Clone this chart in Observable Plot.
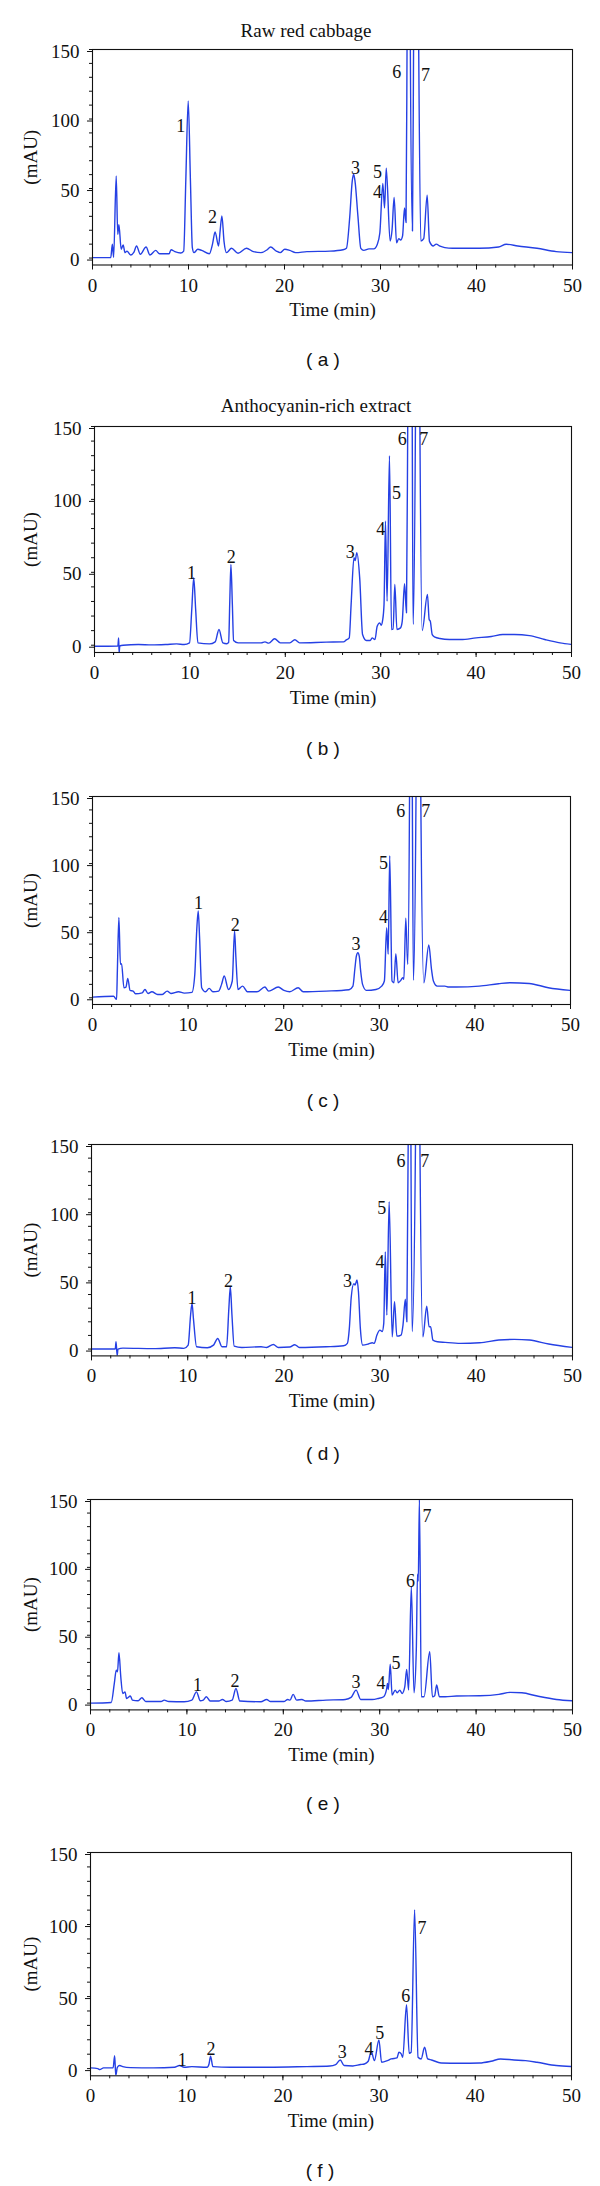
<!DOCTYPE html>
<html>
<head>
<meta charset="utf-8">
<script src="https://cdn.jsdelivr.net/npm/d3@7"></script>
<script src="https://cdn.jsdelivr.net/npm/@observablehq/plot@0.6"></script>
<style>
  html, body { margin: 0; padding: 0; background: #fff; }
  #root { position: relative; width: 600px; height: 2186px; background: #fff; overflow: hidden; }
  .ttl { position: absolute; transform: translate(-50%, -50%); font-family: "Liberation Serif", serif; font-size: 19px; line-height: 1; white-space: nowrap; color: #111; }
  .cap { position: absolute; transform: translate(-50%, -50%); font-family: "Liberation Sans", sans-serif; font-size: 19px; line-height: 1; white-space: pre; color: #111; }
  svg { position: absolute; left: 0; }
</style>
</head>
<body>
<div id="root"></div>
<script>
// ---------- tick labels ----------
const xTicks = [0, 10, 20, 30, 40, 50];
const xMinorTicks = [0, 2, 4, 6, 8, 10, 12, 14, 16, 18, 20, 22, 24, 26, 28, 30, 32, 34, 36, 38, 40, 42, 44, 46, 48, 50];
const yTicks = [0, 50, 100, 150];
const yMinorTicks = [0, 10, 20, 30, 40, 50, 60, 70, 80, 90, 100, 110, 120, 130, 140, 150];
const panelTitles = ["Raw red cabbage", "Anthocyanin-rich extract", "", "", "", ""];
const panelCaptions = ["( a )", "( b )", "( c )", "( d )", "( e )", "( f )"];
const xLabel = "Time (min)";
const yLabel = "(mAU)";

// ---------- traces: [time (min), absorbance (mAU)] ----------
const traceA = [[0,0.3],[1.9,0.3],[2.07,10],[2.2,0.5],[2.47,59],[2.63,17],[2.75,24],[2.99,6.3],[3.19,9.4],[3.39,3.9],[3.59,5],[3.99,2.2],[4.3,4],[4.59,8.7],[4.98,2.7],[5.58,7.9],[5.98,2.2],[6.58,5.5],[6.98,3.1],[7.98,3.1],[8.18,6],[8.58,4.6],[9.18,3.6],[9.5,5],[9.72,56],[9.97,113],[10.2,56],[10.4,7.5],[10.57,3.9],[10.97,6.3],[11.37,5.5],[12.17,3.1],[12.5,10],[12.77,18.8],[13.13,8.7],[13.3,20],[13.48,30.3],[13.7,12],[13.96,3.9],[14.48,7],[15.16,3.4],[16.04,7],[16.76,4.6],[17.55,3.9],[18.2,6],[18.55,7.9],[19.15,5],[19.55,3.9],[20.03,6.3],[20.55,5.5],[21.15,3.9],[22.34,4.6],[24.74,5],[26.1,6],[26.45,7],[26.8,30],[27.05,55],[27.2,60.3],[27.35,55],[27.65,30],[27.95,7],[28.26,5.5],[28.8,6.6],[29.3,6.6],[29.65,9.6],[29.93,18],[30.24,53.6],[30.42,36],[30.6,64.7],[31.0,12.3],[31.2,20],[31.42,43.5],[31.67,11],[31.9,14],[32.1,13],[32.3,16],[32.5,36],[32.66,25.5],[32.77,160],[32.93,450],[33.1,160],[33.33,19.5],[33.45,160],[33.7,500],[33.97,160],[34.2,12.3],[34.5,14],[34.86,45.2],[35.1,12],[35.5,8.7],[35.8,10],[36.2,8.5],[36.7,7.5],[37.5,7],[40.3,7],[42.3,7.9],[43.1,9.9],[44.3,8.7],[46.3,7],[48.3,4.6],[50,3.9]];

const traceB = [[0,-0.7],[2.45,-0.5],[2.53,5],[2.58,-5.3],[2.65,-0.5],[3.0,0],[4.6,0.5],[6,0.2],[7.5,0.5],[8.6,0.9],[9.4,0.5],[9.96,1.6],[10.2,25],[10.4,46.3],[10.6,25],[10.84,1.6],[12.05,0.9],[12.65,2.3],[13.05,10.8],[13.45,1.6],[13.86,1],[14.06,2],[14.18,30],[14.3,55.4],[14.45,28],[14.58,3.2],[15.06,1.6],[17.47,1.6],[17.87,2.3],[18.27,1.4],[18.88,4.4],[19.48,1.6],[20.48,1.6],[21.0,3.7],[21.5,1.6],[24.3,2.1],[26.1,2.3],[26.4,3.7],[26.7,5],[26.9,28],[27.2,60],[27.32,58],[27.5,63.5],[27.8,46],[28.1,7.3],[28.5,3.2],[28.9,3.2],[29.1,5],[29.4,3.9],[29.63,13],[29.9,15.3],[30.05,13.7],[30.2,17],[30.35,28],[30.5,85.2],[30.67,30.2],[30.92,129.9],[31.13,10.8],[31.3,11],[31.48,41.7],[31.7,10.8],[32.08,11.9],[32.26,16.5],[32.5,42.2],[32.7,22.2],[32.84,160],[33.07,450],[33.3,160],[33.4,14.2],[33.65,160],[33.87,500],[34.1,160],[34.35,10.1],[34.9,34.8],[35.08,17.6],[35.2,16.5],[35.4,7.3],[35.7,5.5],[36.2,4.6],[37.2,3.9],[38.4,3.9],[40,5],[41.6,6],[42.8,7.3],[44,7.3],[45.6,6.6],[47.2,3.9],[48.8,1.6],[50,0.5]];

const traceC = [[0,0.5],[2.2,1.2],[2.52,-1.2],[2.6,20],[2.76,59.8],[2.92,25],[3.04,25.4],[3.29,7.5],[3.5,8],[3.69,14.5],[3.93,5.5],[4.25,5],[4.49,3],[5.2,3.7],[5.49,6.2],[5.81,3.2],[6.21,4.5],[6.81,2.5],[7.3,2.5],[7.81,5],[8.21,3.2],[9.01,4.5],[9.6,3.5],[10.4,4],[10.7,17.4],[10.9,50],[11.06,64.8],[11.2,45],[11.42,7.5],[11.82,4.5],[12.2,7],[12.6,4.5],[13.2,5],[13.5,10],[13.78,16.2],[14.22,6.2],[14.62,12.5],[14.86,49.8],[15.0,30],[15.22,6.2],[15.7,8.7],[16.2,4.5],[17.2,4.5],[18.03,8],[18.43,5],[19.43,8],[20.03,5.5],[20.63,4.5],[21.51,7.5],[22.04,4.5],[24.44,5],[26.84,6],[27.24,8.7],[27.45,22],[27.6,31],[27.76,33.6],[27.9,31],[28.05,20],[28.25,10],[28.65,5.5],[29.65,6.2],[30.25,8.7],[30.53,12.5],[30.77,52.3],[30.93,32.4],[31.09,105.9],[31.33,12.5],[31.53,11.2],[31.73,32.9],[31.97,11.2],[32.25,13],[32.45,15],[32.57,13.7],[32.77,59.3],[32.97,24.9],[33.17,160],[33.31,450],[33.45,160],[33.57,13],[33.85,160],[34.09,500],[34.33,160],[34.66,11.2],[35.18,39.4],[35.46,21.2],[35.66,12.5],[36.06,8.7],[36.86,8.7],[37.26,8],[38.06,8],[40.46,8.7],[42.47,10.5],[43.67,11.2],[45.67,10.7],[47.68,7.5],[50,5.5]];

const traceD = [[0,0],[2.47,0],[2.55,5.4],[2.67,-4.9],[2.75,0],[3.27,0.7],[6.46,0.3],[8.65,1],[9.6,0.5],[10.05,2.9],[10.3,25],[10.45,33.5],[10.6,22],[10.92,1.7],[12.04,1],[12.68,2.9],[13.12,7.8],[13.56,1.7],[14.04,1.7],[14.28,30],[14.43,45.7],[14.6,25],[14.83,2.2],[15.63,1.2],[17.62,1.7],[18.2,1.2],[18.9,3.4],[19.42,1.2],[20.61,1.5],[21.13,3.2],[21.61,1.2],[24.4,1.7],[26.2,2.4],[26.6,4.2],[26.8,15],[27.0,38],[27.27,48],[27.4,47],[27.6,50.6],[27.75,42],[27.95,15],[28.19,2.9],[28.79,3.7],[29.19,4.6],[29.39,4.2],[29.67,10.3],[29.98,13.9],[30.22,12.9],[30.38,18.8],[30.54,71.3],[30.7,24.9],[30.94,108],[31.26,9],[31.5,34.7],[31.74,9.5],[32.18,10.3],[32.38,17.6],[32.62,36.6],[32.78,20],[32.93,160],[33.07,450],[33.2,160],[33.33,12.7],[33.69,160],[33.91,500],[34.13,160],[34.45,9],[34.85,31.5],[35.09,16.4],[35.25,16.4],[35.49,6.6],[35.96,5.4],[36.76,4.9],[38.36,4.2],[40.35,4.6],[42.34,6.6],[43.94,7.1],[45.53,6.6],[47.53,3.7],[50,1.2]];

const traceE = [[0,0],[2.15,0.5],[2.47,14.5],[2.67,24.3],[2.8,23],[2.95,37.1],[3.14,19.4],[3.34,7.1],[3.58,8.3],[3.74,3.4],[4.14,5.2],[4.34,2.2],[4.94,1.7],[5.33,3.9],[5.73,1.2],[7.32,1.2],[7.64,2.2],[8.12,1.2],[9.71,1],[10.51,2.2],[10.99,8.3],[11.39,1.7],[11.7,2.2],[12.02,4.7],[12.42,1.5],[13.3,1.5],[13.69,2.7],[14.09,1.2],[14.69,2.2],[15.09,10.8],[15.49,1.5],[17.68,1],[18.27,2.7],[18.67,1.2],[20.06,1.2],[20.46,2.7],[20.7,2.2],[21.02,6.4],[21.38,2.2],[21.93,2.7],[22.33,1.5],[24.44,2.2],[26.43,2.7],[27.03,4.2],[27.55,9.6],[28.03,2.7],[29.22,2.7],[29.82,3.4],[30.41,4.7],[30.73,10.8],[30.81,14.5],[30.9,10],[31.09,28.7],[31.29,5.9],[31.61,9.6],[31.81,7.6],[32.09,9.6],[32.32,7.1],[32.6,12],[32.8,24.8],[33.0,9.6],[33.28,85.7],[33.56,7.6],[33.8,40],[33.92,95],[34.0,90],[34.12,150],[34.32,4.7],[34.6,4.7],[35.19,37.8],[35.47,4.7],[35.7,5.5],[35.91,13.3],[36.19,4.7],[36.8,4.7],[37.98,5.2],[40.37,5.4],[42.36,6.4],[43.55,7.9],[44.75,7.6],[46.34,5.2],[48.33,2.7],[50,1.7]];

const traceF = [[0,0.5],[0.76,0],[0.96,-0.7],[1.36,0.5],[2.35,0.5],[2.51,9],[2.63,-4.9],[2.79,0.9],[3.03,2.1],[3.35,1.4],[4.15,0.7],[6.54,0.5],[8.73,0.9],[9.25,2.1],[9.73,0.9],[10.53,1.4],[12.12,0.9],[12.32,3.2],[12.48,8.6],[12.72,1.4],[14.51,0.9],[18.5,0.9],[22.49,1.4],[24.88,1.8],[25.48,2.8],[25.96,6],[26.36,2.1],[27.27,1.8],[28.07,2.8],[28.47,3.2],[28.87,5.1],[29.19,11.8],[29.51,5.5],[29.98,19.9],[30.26,4.4],[30.86,5.5],[31.26,6.7],[31.86,7.4],[32.06,11.3],[32.3,10.2],[32.46,7.9],[32.85,44.4],[33.13,10.6],[33.33,11.3],[33.69,110.2],[34.05,7.9],[34.37,6.7],[34.73,14.8],[35.05,6.7],[35.45,6],[36.44,3.9],[38.44,3.7],[40.43,3.9],[41.63,5.1],[42.62,6.7],[44.02,6],[45.22,5.5],[46.41,4.4],[48.41,2.1],[50,1.4]];

// ---------- peak labels: [label, time, mAU] ----------
const peaksA = [["1",9.2,95],["2",12.5,29],["3",27.4,64.4],["4",29.7,47],["5",29.7,61.5],["6",31.7,133.6],["7",34.7,131.7]];
const peaksB = [["1",10.16,49.7],["2",14.34,60.5],["3",26.8,63.5],["4",30.0,79.5],["5",31.66,104],["6",32.25,141],["7",34.5,141]];
const peaksC = [["1",11.1,70.5],["2",14.94,54],["3",27.56,39.9],["4",30.45,60.3],["5",30.45,100.2],["6",32.25,138.8],["7",34.86,138.8]];
const peaksD = [["1",10.45,37.1],["2",14.23,49.8],["3",26.6,49.8],["4",29.98,64],["5",30.18,103.6],["6",32.18,138],["7",34.65,138]];
const peaksE = [["1",11.1,13.3],["2",15.0,16.4],["3",27.55,15.7],["4",30.14,14.5],["5",31.69,29.2],["6",33.2,89.9],["7",34.91,138]];
const peaksF = [["1",9.53,6],["2",12.52,13.6],["3",26.16,11.3],["4",28.95,13.6],["5",30.06,24.5],["6",32.78,49.9],["7",34.45,97.5]];

const traces = [traceA, traceB, traceC, traceD, traceE, traceF];
const peaks = [peaksA, peaksB, peaksC, peaksD, peaksE, peaksF];

// ---------- layout (pixel geometry of each panel's frame) ----------
const layout = [
  {top: 49,     bottom: 264.5,  left: 92, right: 572, titleX: 306, titleY: 30,  capX: 323, capY: 359},
  {top: 425.7,  bottom: 651.7,  left: 94, right: 571, titleX: 316, titleY: 405, capX: 323, capY: 748},
  {top: 796,    bottom: 1004,   left: 92, right: 570, capX: 323, capY: 1100},
  {top: 1144.3, bottom: 1355.7, left: 91, right: 572, capX: 323, capY: 1453},
  {top: 1499.3, bottom: 1709.7, left: 90, right: 572, capX: 323, capY: 1803},
  {top: 1851.7, bottom: 2075,   left: 90, right: 571, capX: 320, capY: 2170}
];

const LINE = "#2540e4";
const INK = "#111";
const MT = 10, MB = 62;
const root = document.getElementById("root");

layout.forEach((L, i) => {
  const h = MT + (L.bottom - L.top) + MB;
  const chart = Plot.plot({
    width: 600,
    height: h,
    marginLeft: L.left,
    marginRight: 600 - L.right,
    marginTop: MT,
    marginBottom: MB,
    style: {fontFamily: "'Liberation Serif', 'Times New Roman', serif", fontSize: "18px", color: INK, background: "transparent", overflow: "visible"},
    x: {domain: [0, 50]},
    y: {domain: [-5, 150]},
    marks: [
      Plot.axisX({ticks: xMinorTicks, tickSize: 3, fill: "none", label: null, stroke: INK}),
      Plot.axisX({ticks: xTicks, tickSize: 5, tickPadding: 8, tickFormat: d => String(d), label: xLabel, labelAnchor: "center", labelArrow: "none", labelOffset: 51, fontSize: 19, stroke: INK}),
      Plot.axisY({ticks: yMinorTicks, tickSize: 3, fill: "none", label: null, stroke: INK}),
      Plot.axisY({ticks: yTicks, tickSize: 5, tickPadding: 8, tickFormat: d => String(d), dy: 2, label: yLabel, labelAnchor: "center", labelArrow: "none", labelOffset: L.left - 23, fontSize: 19, stroke: INK}),
      Plot.line(traces[i], {x: d => d[0], y: d => d[1], stroke: LINE, strokeWidth: 1.4, clip: true, curve: "monotone-x"}),
      Plot.text(peaks[i], {x: d => d[1], y: d => d[2], text: d => d[0], fontSize: 18, fill: INK}),
      Plot.frame({stroke: INK, strokeWidth: 1.1})
    ]
  });
  chart.style.top = (L.top - MT) + "px";
  root.appendChild(chart);

  if (panelTitles[i]) {
    const t = document.createElement("div");
    t.className = "ttl";
    t.textContent = panelTitles[i];
    t.style.left = L.titleX + "px";
    t.style.top = L.titleY + "px";
    root.appendChild(t);
  }
  const c = document.createElement("div");
  c.className = "cap";
  c.textContent = panelCaptions[i];
  c.style.left = L.capX + "px";
  c.style.top = L.capY + "px";
  root.appendChild(c);
});
</script>
</body>
</html>
